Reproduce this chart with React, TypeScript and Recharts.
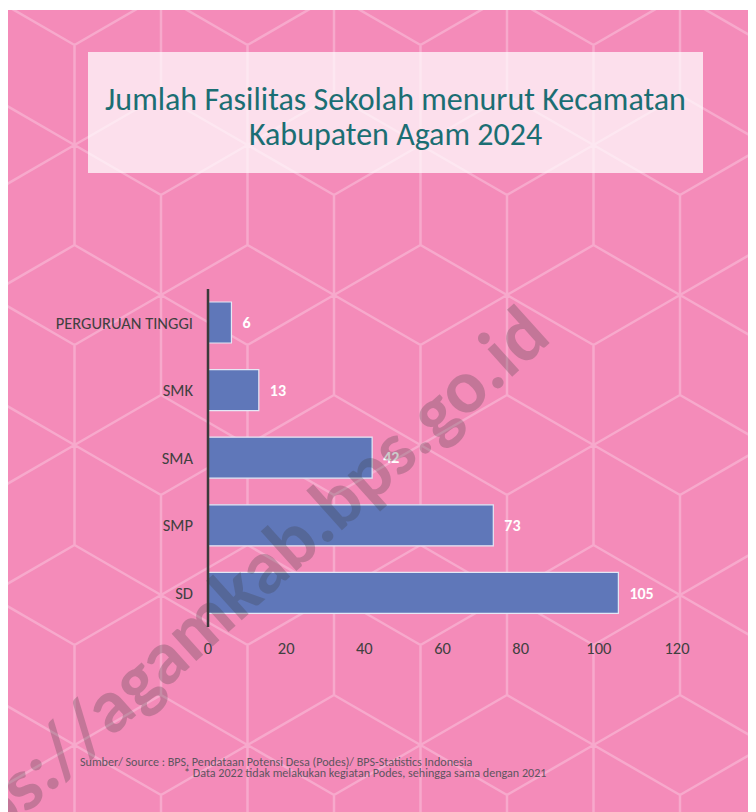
import React from "react";
import { BarChart, Bar, XAxis, YAxis, LabelList } from "recharts";

const categories = ["PERGURUAN TINGGI", "SMK", "SMA", "SMP", "SD"];
const values = [6, 13, 42, 73, 105];
const xTicks = [0, 20, 40, 60, 80, 100, 120];
const titleLines = ["Jumlah Fasilitas Sekolah menurut Kecamatan", "Kabupaten Agam 2024"];
const footerLines = [
  "Sumber/ Source : BPS, Pendataan Potensi Desa (Podes)/ BPS-Statistics Indonesia",
  "* Data 2022 tidak melakukan kegiatan Podes, sehingga sama dengan 2021",
];
const watermark = "https://agamkab.bps.go.id";

const data = categories.map((c, i) => ({ name: c, value: values[i] }));

const W = 748;
const H = 802;
const FONT = "Carlito, Lato, 'Open Sans', sans-serif";

function Cubes() {
  const h = 86.5;
  const s = 100;
  const lines: string[] = [];
  const centers: [number, number][] = [];
  for (let j = -2; j <= 3; j++) {
    for (let i = -5; i <= 2; i++) {
      centers.push([593.5 - 8 + 2 * h * i, 345 - 10 + 300 * j]);
      centers.push([593.5 - 8 - h + 2 * h * i, 345 - 10 + 150 + 300 * j]);
    }
  }
  centers.forEach(([cx, cy]) => {
    lines.push(
      `M${cx},${cy - s} L${cx + h},${cy - s / 2} L${cx + h},${cy + s / 2} L${cx},${cy + s} L${cx - h},${cy + s / 2} L${cx - h},${cy - s / 2} Z`
    );
    lines.push(`M${cx - h},${cy - s / 2} L${cx},${cy} L${cx + h},${cy - s / 2} M${cx},${cy} L${cx},${cy + s}`);
  });
  return (
    <svg width={W} height={H} style={{ position: "absolute", left: 0, top: 0 }}>
      <rect x={0} y={0} width={W} height={H} fill="#F48BB9" />
      <path d={lines.join(" ")} fill="none" stroke="#F7A9CC" strokeWidth={2.5} strokeLinejoin="round" />
    </svg>
  );
}

export default function App() {
  return (
    <div style={{ position: "relative", width: W, height: H, marginTop: 2, overflow: "hidden", fontFamily: FONT }}>
      <Cubes />
      <div
        style={{
          position: "absolute",
          left: 80,
          top: 42,
          width: 615,
          height: 121,
          background: "rgba(255,255,255,0.72)",
          display: "flex",
          flexDirection: "column",
          alignItems: "center",
          justifyContent: "center",
          color: "#1B6E73",
          fontSize: 32,
          lineHeight: "35px",
          paddingTop: 9,
          boxSizing: "border-box",
        }}
      >
        {titleLines.map((t) => (
          <div key={t}>{t}</div>
        ))}
      </div>
      <div style={{ position: "absolute", left: 0, top: 0 }}>
        <BarChart
          width={W}
          height={H}
          data={data}
          layout="vertical"
          margin={{ top: 279, right: 79, bottom: 155, left: 0 }}
        >
          <XAxis
            type="number"
            domain={[0, 120]}
            ticks={xTicks}
            axisLine={false}
            tickLine={false}
            tickSize={0}
            tickMargin={15}
            height={30}
            tick={{ fill: "#404040", fontSize: 16.5, fontFamily: FONT }}
            interval={0}
          />
          <YAxis
            type="category"
            dataKey="name"
            width={200}
            axisLine={{ stroke: "#3a3a3a", strokeWidth: 2.5 }}
            tickLine={false}
            tickSize={0}
            tickMargin={15}
            tick={{ fill: "#404040", fontSize: 16.5, fontFamily: FONT }}
            interval={0}
          />
          <Bar
            dataKey="value"
            fill="#5F77B9"
            stroke="#E4E8F6"
            strokeWidth={1.2}
            barSize={41}
            isAnimationActive={false}
          >
            <LabelList
              dataKey="value"
              position="right"
              offset={11}
              fill="#FFFFFF"
              fontSize={16}
              fontWeight="bold"
              fontFamily={FONT}
            />
          </Bar>
        </BarChart>
      </div>
      <div
        style={{
          position: "absolute",
          left: 72,
          top: 746,
          fontSize: 12.1,
          lineHeight: "11px",
          color: "#5E5560",
          whiteSpace: "pre",
        }}
      >
        <div>{footerLines[0]}</div>
        <div style={{ paddingLeft: 104 }}>{footerLines[1]}</div>
      </div>
      <svg width={W} height={H} style={{ position: "absolute", left: 0, top: 0, pointerEvents: "none" }}>
        <text
          x={545}
          y={330}
          transform="rotate(-42 545 330)"
          textAnchor="end"
          fontSize={76}
          fontWeight="bold"
          fontFamily={FONT}
          fill="#3c3c3c"
          opacity={0.26}
        >
          {watermark}
        </text>
      </svg>
    </div>
  );
}
